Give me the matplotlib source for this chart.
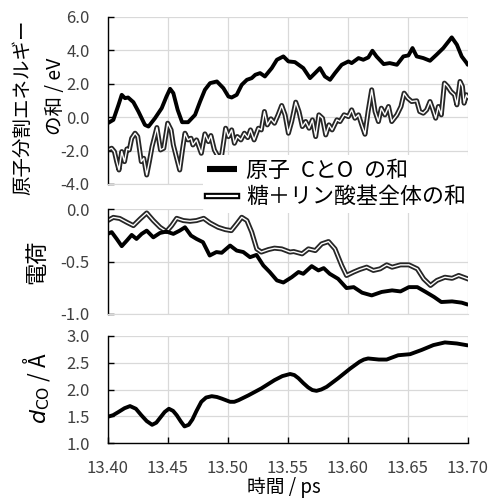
import matplotlib
matplotlib.use("Agg")
import matplotlib.pyplot as plt
import matplotlib.patheffects as pe
from matplotlib.ticker import FixedLocator, FormatStrFormatter

plt.rcParams['font.family'] = ['Noto Sans CJK JP', 'DejaVu Sans']

# ---------------- data ----------------
# Top panel: atomic-partition energy sums (eV)
t_e_black = [13.400, 13.4047, 13.409, 13.4117, 13.4144, 13.417, 13.4214, 13.4256, 13.431, 13.434,
             13.4394, 13.445, 13.449, 13.452, 13.4547, 13.4583, 13.462, 13.467, 13.4728, 13.477,
             13.481, 13.4853, 13.491, 13.4964, 13.5006, 13.5033, 13.5075, 13.5117, 13.516, 13.520,
             13.523, 13.527, 13.531, 13.5367, 13.541, 13.5464, 13.5506, 13.556, 13.563, 13.5686,
             13.5728, 13.5769, 13.581, 13.5853, 13.5894, 13.595, 13.6006, 13.6033, 13.609, 13.613,
             13.6172, 13.6206, 13.624, 13.630, 13.635, 13.641, 13.6464, 13.6506, 13.654, 13.6575,
             13.663, 13.6686, 13.674, 13.6797, 13.6867, 13.691, 13.695, 13.6992, 13.700]
e_black = [-0.36, -0.16, 0.74, 1.34, 1.14, 1.18, 0.90, 0.34, -0.46, -0.56,
           -0.06, 0.54, 1.24, 1.70, 1.44, 0.44, -0.30, -0.30, 0.14, 0.94,
           1.64, 2.04, 2.14, 1.74, 1.24, 1.18, 1.34, 1.94, 2.24, 2.34,
           2.54, 2.64, 2.44, 2.94, 3.44, 3.64, 3.34, 3.30, 2.94, 2.34,
           2.64, 2.94, 2.44, 2.24, 2.64, 3.14, 3.34, 3.24, 3.54, 3.44,
           3.58, 3.98, 3.64, 3.18, 3.24, 3.14, 3.64, 3.70, 4.14, 3.64,
           3.54, 3.38, 3.74, 4.14, 4.78, 4.34, 3.64, 3.24, 3.14]

t_e_gray = [13.400, 13.4033, 13.4056, 13.4075, 13.4094, 13.4117, 13.414, 13.416, 13.418, 13.420,
            13.4228, 13.425, 13.428, 13.430, 13.4325, 13.4347, 13.437, 13.441, 13.444, 13.4467,
            13.450, 13.4528, 13.4547, 13.4575, 13.460, 13.4625, 13.4644, 13.467, 13.4694, 13.471,
            13.474, 13.478, 13.481, 13.4839, 13.486, 13.4889, 13.492, 13.495, 13.4983, 13.5006,
            13.5033, 13.5056, 13.508, 13.511, 13.5139, 13.5167, 13.519, 13.522, 13.5256, 13.528,
            13.5306, 13.533, 13.536, 13.539, 13.542, 13.545, 13.5478, 13.5506, 13.5533, 13.5567,
            13.5594, 13.5622, 13.565, 13.5678, 13.5706, 13.5733, 13.576, 13.579, 13.5817, 13.5844,
            13.587, 13.591, 13.5936, 13.597, 13.6006, 13.6033, 13.606, 13.609, 13.6117, 13.6144,
            13.617, 13.620, 13.6228, 13.6256, 13.628, 13.631, 13.634, 13.6367, 13.641, 13.6444,
            13.647, 13.650, 13.6533, 13.6575, 13.660, 13.663, 13.6658, 13.6686, 13.6706, 13.6733,
            13.6756, 13.678, 13.6806, 13.6833, 13.686, 13.689, 13.691, 13.6936, 13.6956, 13.697,
            13.699, 13.700]
e_gray = [-1.96, -1.86, -2.06, -2.66, -3.16, -2.06, -2.66, -1.90, -1.96, -1.26,
          -0.96, -1.16, -2.66, -2.46, -3.46, -2.66, -1.76, -0.62, -1.96, -1.86,
          -0.36, -0.76, -1.66, -2.46, -3.16, -1.86, -0.96, -1.36, -1.26, -1.66,
          -1.36, -2.16, -1.00, -1.46, -1.10, -1.96, -2.36, -2.26, -0.66, -1.16,
          -0.76, -1.56, -1.16, -1.36, -0.96, -1.22, -0.76, -1.36, -0.66, -0.76,
          0.34, -0.46, -0.10, -0.36, 0.14, 0.70, 0.14, -0.96, -0.26, 0.90,
          0.34, -0.56, -0.26, -0.66, -0.16, -1.16, 0.14, -0.06, -1.06, -0.46,
          -0.76, -0.16, -0.26, 0.14, 0.04, 0.44, -0.06, 0.14, -0.46, -1.02,
          0.34, 1.64, 0.34, -0.26, 0.54, 0.14, 0.64, -0.26, 0.14, 0.64,
          1.44, 1.14, 0.94, 0.98, 0.34, 0.24, 0.44, 0.94, 0.54, -0.06,
          0.64, 0.14, 2.04, 1.84, 1.54, 1.34, 0.74, 2.14, 1.84, 0.84,
          1.34, 1.20]

# Middle panel: charge
t_q_black = [13.400, 13.4033, 13.4075, 13.4117, 13.416, 13.420, 13.424, 13.4283, 13.4325, 13.438,
             13.4436, 13.449, 13.4547, 13.460, 13.4644, 13.4694, 13.474, 13.4794, 13.485, 13.4906,
             13.495, 13.502, 13.5075, 13.513, 13.5186, 13.524, 13.5297, 13.535, 13.541, 13.5464,
             13.5533, 13.559, 13.563, 13.570, 13.5756, 13.580, 13.585, 13.592, 13.599, 13.605,
             13.612, 13.620, 13.6283, 13.637, 13.644, 13.651, 13.658, 13.665, 13.672, 13.678,
             13.687, 13.695, 13.700]
q_black = [-0.237, -0.22, -0.285, -0.354, -0.30, -0.247, -0.285, -0.237, -0.206, -0.27,
           -0.228, -0.215, -0.237, -0.206, -0.174, -0.253, -0.285, -0.316, -0.443, -0.41,
           -0.417, -0.348, -0.396, -0.41, -0.459, -0.437, -0.538, -0.60, -0.68, -0.70,
           -0.65, -0.60, -0.617, -0.544, -0.585, -0.563, -0.617, -0.665, -0.753, -0.744,
           -0.797, -0.823, -0.79, -0.775, -0.785, -0.744, -0.744, -0.79, -0.838, -0.886,
           -0.88, -0.892, -0.91]

t_q_gray = [13.400, 13.4047, 13.410, 13.416, 13.4214, 13.427, 13.4325, 13.438, 13.4436, 13.449,
            13.4533, 13.4575, 13.463, 13.4686, 13.474, 13.480, 13.4853, 13.492, 13.498, 13.503,
            13.5075, 13.5117, 13.516, 13.520, 13.5242, 13.528, 13.534, 13.539, 13.545, 13.5519,
            13.555, 13.562, 13.5673, 13.573, 13.5783, 13.584, 13.5894, 13.595, 13.599, 13.605,
            13.610, 13.6158, 13.6214, 13.627, 13.6325, 13.637, 13.644, 13.651, 13.658, 13.6633,
            13.669, 13.6744, 13.681, 13.687, 13.6925, 13.700]
q_gray = [-0.11, -0.08, -0.09, -0.127, -0.158, -0.095, -0.038, -0.11, -0.174, -0.215,
          -0.158, -0.089, -0.11, -0.117, -0.11, -0.089, -0.133, -0.174, -0.196, -0.206,
          -0.142, -0.079, -0.11, -0.22, -0.38, -0.41, -0.386, -0.373, -0.38, -0.41,
          -0.405, -0.427, -0.38, -0.396, -0.332, -0.31, -0.38, -0.538, -0.633, -0.60,
          -0.576, -0.554, -0.585, -0.57, -0.532, -0.554, -0.532, -0.532, -0.57, -0.665,
          -0.728, -0.68, -0.65, -0.66, -0.633, -0.665]

# Bottom panel: C-O distance (Å)
t_dco = [13.400, 13.4045, 13.409, 13.414, 13.4186, 13.4235, 13.428, 13.4325, 13.437, 13.4405,
         13.444, 13.4475, 13.451, 13.4545, 13.4575, 13.461, 13.464, 13.4675, 13.4706, 13.474,
         13.478, 13.482, 13.4867, 13.491, 13.495, 13.4985, 13.502, 13.5055, 13.509, 13.5172,
         13.528, 13.539, 13.5455, 13.552, 13.5555, 13.559, 13.563, 13.567, 13.5705, 13.574,
         13.578, 13.5825, 13.592, 13.602, 13.610, 13.6135, 13.617, 13.626, 13.6325, 13.642,
         13.652, 13.6617, 13.6714, 13.681, 13.691, 13.700]
dco = [1.49, 1.52, 1.58, 1.65, 1.69, 1.64, 1.52, 1.41, 1.34, 1.38,
       1.48, 1.58, 1.64, 1.60, 1.52, 1.40, 1.31, 1.34, 1.44, 1.60,
       1.77, 1.85, 1.875, 1.86, 1.83, 1.80, 1.77, 1.77, 1.80, 1.89,
       2.02, 2.175, 2.25, 2.29, 2.27, 2.21, 2.12, 2.04, 1.99, 1.975,
       2.0, 2.05, 2.21, 2.39, 2.52, 2.56, 2.58, 2.56, 2.56, 2.64,
       2.66, 2.74, 2.83, 2.88, 2.86, 2.825]

x_ticks = [13.40, 13.45, 13.50, 13.55, 13.60, 13.65, 13.70]
y_ticks_e = [-4.0, -2.0, 0.0, 2.0, 4.0, 6.0]
y_ticks_q = [-1.0, -0.5, 0.0]
y_ticks_d = [1.0, 1.5, 2.0, 2.5, 3.0]

labels_legend = ['原子\u2002CとO\u2002の和', '糖＋リン酸基全体の和']

# ---------------- figure ----------------
W, H = 496, 499
fig = plt.figure(figsize=(W / 100, H / 100), dpi=100)


def px_axes(left, top, right, bottom):
    return fig.add_axes([left / W, 1 - bottom / H, (right - left) / W, (bottom - top) / H])


ax1 = px_axes(107.7, 17, 467.7, 184)
ax2 = px_axes(107.7, 209, 467.7, 314)
ax3 = px_axes(107.7, 336, 467.7, 443)

grid_c = '#d9d9d9'
tick_c = '#404040'
BLACK_LW = 2.8
dbl_effect = [pe.Stroke(linewidth=3.6, foreground='#262626'), pe.Normal()]


def style(ax, yticks, fmt, show_x):
    ax.set_xlim(13.40, 13.70)
    ax.set_ylim(yticks[0], yticks[-1])
    ax.xaxis.set_major_locator(FixedLocator(x_ticks))
    ax.yaxis.set_major_locator(FixedLocator(yticks))
    ax.yaxis.set_major_formatter(FormatStrFormatter(fmt))
    ax.grid(True, color=grid_c, linewidth=0.9)
    ax.set_axisbelow(True)
    for s in ['top', 'right']:
        ax.spines[s].set_visible(False)
    ax.spines['left'].set_color('black')
    ax.spines['left'].set_linewidth(1.0)
    ax.tick_params(axis='y', direction='in', length=4, width=1.0, color='black',
                   labelsize=12, labelcolor=tick_c, pad=13)
    if show_x:
        ax.spines['bottom'].set_color('black')
        ax.spines['bottom'].set_linewidth(1.0)
        ax.tick_params(axis='x', direction='in', length=4, width=1.0, color='black',
                       labelsize=12, labelcolor=tick_c, pad=12)
        ax.xaxis.set_major_formatter(FormatStrFormatter('%.2f'))
    else:
        ax.spines['bottom'].set_color(grid_c)
        ax.tick_params(axis='x', length=0, labelbottom=False)


style(ax1, y_ticks_e, '%.1f', False)
style(ax2, y_ticks_q, '%.1f', False)
style(ax3, y_ticks_d, '%.1f', True)

l1, = ax1.plot(t_e_black, e_black, color='black', lw=BLACK_LW, solid_joinstyle='round',
               solid_capstyle='round', label=labels_legend[0], zorder=3)
l2, = ax1.plot(t_e_gray, e_gray, color='white', lw=1.0, path_effects=dbl_effect,
               solid_joinstyle='round', label=labels_legend[1], zorder=2)

ax2.plot(t_q_gray, q_gray, color='white', lw=1.0, path_effects=dbl_effect,
         solid_joinstyle='round', zorder=2)
ax2.plot(t_q_black, q_black, color='black', lw=BLACK_LW, solid_joinstyle='round',
         solid_capstyle='round', zorder=3)

ax3.plot(t_dco, dco, color='black', lw=BLACK_LW, solid_joinstyle='round',
         solid_capstyle='round', zorder=3)

leg = fig.legend(handles=[l1, l2], labels=labels_legend, loc='center left',
                 bbox_to_anchor=(203 / W, 1 - 184 / H), frameon=True, fontsize=15.8,
                 handlelength=1.35, handletextpad=0.4, labelspacing=0.2,
                 borderpad=0.2, borderaxespad=0)
leg.get_frame().set_facecolor('white')
leg.get_frame().set_edgecolor('none')
leg.get_frame().set_alpha(1.0)
hl = leg.legend_handles
hl[0].set_linewidth(4.4)
hl[0].set_solid_capstyle('butt')
hl[1].set_linewidth(1.6)
hl[1].set_path_effects([pe.Stroke(linewidth=4.6, foreground='black'), pe.Normal()])

fig.text(23 / W, 1 - 107 / H, '原子分割エネルギー', rotation=90, ha='center',
         va='center', fontsize=14)
fig.text(56 / W, 1 - 96 / H, 'の和 / eV', rotation=90, ha='center',
         va='center', fontsize=14)
fig.text(37 / W, 1 - 262 / H, '電荷', rotation=90, ha='center', va='center', fontsize=16)
fig.text(36 / W, 1 - 388 / H, r'$d_{\mathrm{CO}}$ / Å', rotation=90, ha='center', va='center',
         fontsize=16)
fig.text(284 / W, 1 - 487 / H, '時間 / ps', ha='center', va='center', fontsize=13.5)

fig.savefig('out.png', dpi=100)
